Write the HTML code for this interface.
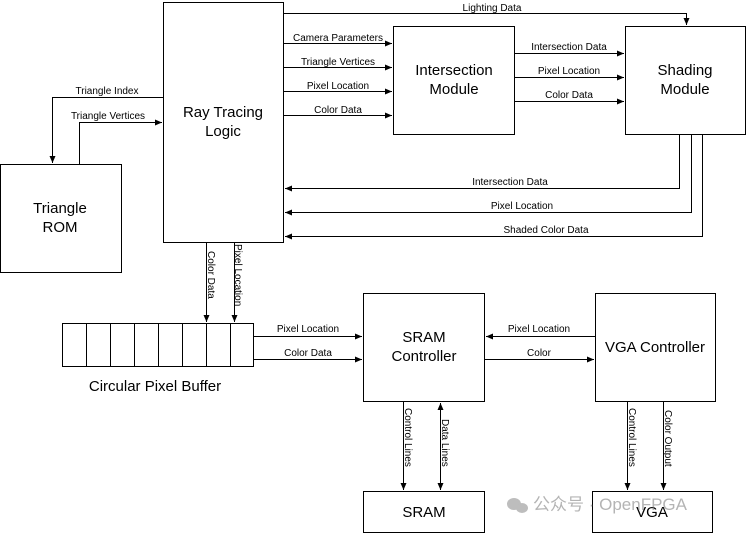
<!DOCTYPE html>
<html><head><meta charset="utf-8"><style>
html,body{margin:0;padding:0;background:#fff;}
svg{display:block;}
text{font-family:"Liberation Sans",Arial,sans-serif;fill:#000;}
.s{font-size:10px;}
.b{font-size:15px;}
</style></head><body>
<svg width="746" height="534" viewBox="0 0 746 534" xmlns="http://www.w3.org/2000/svg">
<defs>
<marker id="a" markerWidth="8" markerHeight="8" refX="7" refY="3" orient="auto-start-reverse" markerUnits="userSpaceOnUse">
<path d="M0,0 L7,3 L0,6 z" fill="#000"/></marker>
</defs>
<g fill="none" stroke="#000" stroke-width="1">
<rect x="163.5" y="2.5" width="120" height="240"/>
<rect x="0.5" y="164.5" width="121" height="108"/>
<rect x="393.5" y="26.5" width="121" height="108"/>
<rect x="625.5" y="26.5" width="120" height="108"/>
<rect x="363.5" y="293.5" width="121" height="108"/>
<rect x="595.5" y="293.5" width="120" height="108"/>
<rect x="363.5" y="491.5" width="121" height="41"/>
<rect x="592.5" y="491.5" width="120" height="41"/>
<rect x="62.5" y="323.5" width="191" height="43"/>
<path d="M86.5,323.5v43M110.5,323.5v43M134.5,323.5v43M158.5,323.5v43M182.5,323.5v43M206.5,323.5v43M230.5,323.5v43"/>
<path d="M163.5,97.5H52.5V163" marker-end="url(#a)"/>
<path d="M79.5,164V122.5H162" marker-end="url(#a)"/>
<path d="M283.5,13.5H686.5V25" marker-end="url(#a)"/>
<path d="M284,43.5H392" marker-end="url(#a)"/>
<path d="M284,67.5H392" marker-end="url(#a)"/>
<path d="M284,91.5H392" marker-end="url(#a)"/>
<path d="M284,115.5H392" marker-end="url(#a)"/>
<path d="M515,53.5H624" marker-end="url(#a)"/>
<path d="M515,77.5H624" marker-end="url(#a)"/>
<path d="M515,101.5H624" marker-end="url(#a)"/>
<path d="M679.5,135V188.5H285" marker-end="url(#a)"/>
<path d="M691.5,135V212.5H285" marker-end="url(#a)"/>
<path d="M702.5,135V236.5H285" marker-end="url(#a)"/>
<path d="M206.5,243V322" marker-end="url(#a)"/>
<path d="M234.5,243V322" marker-end="url(#a)"/>
<path d="M254,336.5H362" marker-end="url(#a)"/>
<path d="M254,359.5H362" marker-end="url(#a)"/>
<path d="M595,336.5H486" marker-end="url(#a)"/>
<path d="M485,359.5H594" marker-end="url(#a)"/>
<path d="M403.5,402V490" marker-end="url(#a)"/>
<path d="M440.5,403V490" marker-end="url(#a)" marker-start="url(#a)"/>
<path d="M627.5,402V490" marker-end="url(#a)"/>
<path d="M663.5,402V490" marker-end="url(#a)"/>
</g>
<text class="b" x="223" y="117" text-anchor="middle">Ray Tracing</text>
<text class="b" x="223" y="136" text-anchor="middle">Logic</text>
<text class="b" x="60" y="213" text-anchor="middle">Triangle</text>
<text class="b" x="60" y="232" text-anchor="middle">ROM</text>
<text class="b" x="454" y="75" text-anchor="middle">Intersection</text>
<text class="b" x="454" y="94" text-anchor="middle">Module</text>
<text class="b" x="685" y="75" text-anchor="middle">Shading</text>
<text class="b" x="685" y="94" text-anchor="middle">Module</text>
<text class="b" x="424" y="342" text-anchor="middle">SRAM</text>
<text class="b" x="424" y="361" text-anchor="middle">Controller</text>
<text class="b" x="655" y="352" text-anchor="middle">VGA Controller</text>
<text class="b" x="424" y="517" text-anchor="middle">SRAM</text>
<text class="b" x="652" y="517" text-anchor="middle">VGA</text>
<text class="b" x="155" y="391" text-anchor="middle">Circular Pixel Buffer</text>
<text class="s" x="107" y="94" text-anchor="middle">Triangle Index</text>
<text class="s" x="108" y="119" text-anchor="middle">Triangle Vertices</text>
<text class="s" x="492" y="11" text-anchor="middle">Lighting Data</text>
<text class="s" x="338" y="41" text-anchor="middle">Camera Parameters</text>
<text class="s" x="338" y="65" text-anchor="middle">Triangle Vertices</text>
<text class="s" x="338" y="89" text-anchor="middle">Pixel Location</text>
<text class="s" x="338" y="113" text-anchor="middle">Color Data</text>
<text class="s" x="569" y="50" text-anchor="middle">Intersection Data</text>
<text class="s" x="569" y="74" text-anchor="middle">Pixel Location</text>
<text class="s" x="569" y="98" text-anchor="middle">Color Data</text>
<text class="s" x="510" y="185" text-anchor="middle">Intersection Data</text>
<text class="s" x="522" y="209" text-anchor="middle">Pixel Location</text>
<text class="s" x="546" y="233" text-anchor="middle">Shaded Color Data</text>
<text class="s" x="308" y="332" text-anchor="middle">Pixel Location</text>
<text class="s" x="308" y="356" text-anchor="middle">Color Data</text>
<text class="s" x="539" y="332" text-anchor="middle">Pixel Location</text>
<text class="s" x="539" y="356" text-anchor="middle">Color</text>
<text class="s" transform="translate(208,251) rotate(90)">Color Data</text>
<text class="s" transform="translate(235,244) rotate(90)">Pixel Location</text>
<text class="s" transform="translate(405,408) rotate(90)">Control Lines</text>
<text class="s" transform="translate(442,419) rotate(90)">Data Lines</text>
<text class="s" transform="translate(629,408) rotate(90)">Control Lines</text>
<text class="s" transform="translate(665,410) rotate(90)">Color Output</text>
<g opacity="0.55">
<ellipse cx="514" cy="504" rx="7" ry="6" fill="#888"/><ellipse cx="522" cy="508" rx="6" ry="5" fill="#888"/>
<text x="533" y="510" style="font-family:'Liberation Sans','Noto Sans CJK SC',sans-serif;font-size:17px;fill:#777">公众号 · OpenFPGA</text>
</g>
</svg>
</body></html>
